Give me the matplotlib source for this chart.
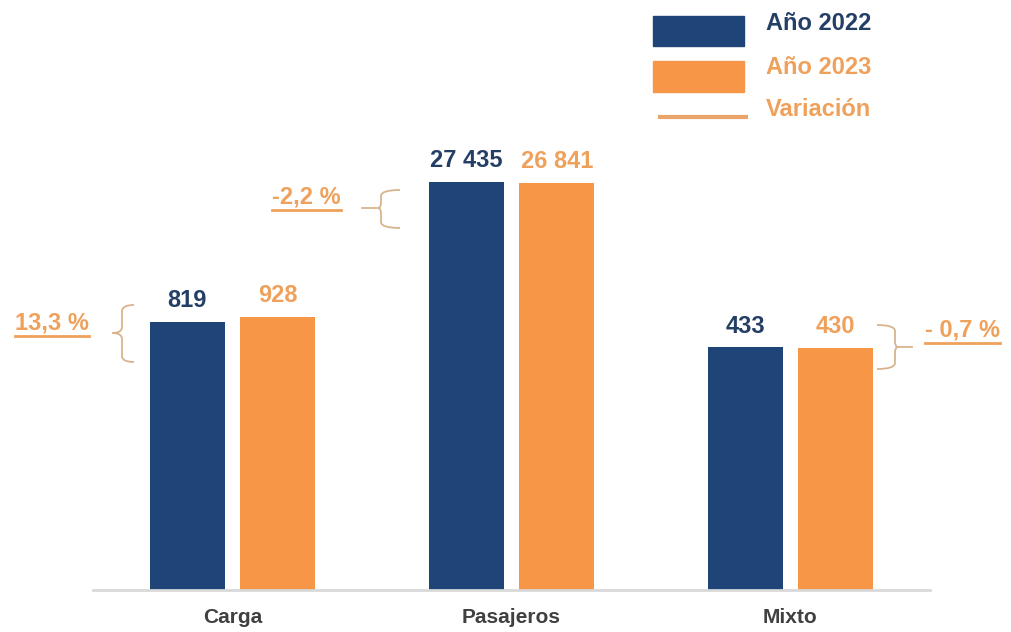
import matplotlib
matplotlib.use("Agg")
import matplotlib.pyplot as plt
from matplotlib.patches import Rectangle, PathPatch
from matplotlib.path import Path
import numpy as np

plt.rcParams["font.family"] = ["Liberation Sans", "DejaVu Sans"]

# Vehicle counts by type of service
categorias = ["Carga", "Pasajeros", "Mixto"]
anio_2022 = [819, 27435, 433]
anio_2023 = [928, 26841, 430]
variacion = ["13,3 %", "-2,2 %", "- 0,7 %"]

azul = "#1F4477"
naranja = "#F79646"
texto_azul = "#243F66"
texto_naranja = "#EFA15C"
llave = "#D8B48E"

W, H = 1011, 632
fig = plt.figure(figsize=(W / 100, H / 100), dpi=100)

ax = fig.add_axes([93 / W, 42 / H, 837 / W, 460 / H])
x = np.arange(len(categorias))
ancho = 0.27
off = 0.162
b1 = ax.bar(x - off, anio_2022, ancho, color=azul)
b2 = ax.bar(x + off, anio_2023, ancho, color=naranja)
ax.set_yscale("log")
ax.set_ylim(1, 1e5)
ax.set_xlim(-0.5, 2.5)

fmt = lambda v: f"{v:,}".replace(",", " ")
ax.bar_label(b1, labels=[fmt(v) for v in anio_2022], padding=7,
             fontsize=17, fontweight="bold", color=texto_azul)
ax.bar_label(b2, labels=[fmt(v) for v in anio_2023], padding=7,
             fontsize=17, fontweight="bold", color=texto_naranja)

ax.set_xticks(x)
ax.set_xticklabels(categorias, fontsize=15, fontweight="bold", color="#404040")
ax.tick_params(axis="x", length=0, pad=13)
ax.set_yticks([])
ax.yaxis.set_minor_locator(matplotlib.ticker.NullLocator())
for s in ["top", "left", "right"]:
    ax.spines[s].set_visible(False)
ax.spines["bottom"].set_color("#D9D9D9")
ax.spines["bottom"].set_linewidth(2)

# overlay in pixel units for legend, braces and percentage notes
ov = fig.add_axes([0, 0, 1, 1])
ov.set_xlim(0, W)
ov.set_ylim(H, 0)
ov.axis("off")
ov.patch.set_alpha(0)

# legend
ov.add_patch(Rectangle((653, 16), 91, 30, color=azul))
ov.add_patch(Rectangle((653, 61), 91, 31, color=naranja))
ov.plot([658, 748], [117, 117], color="#EBA56A", lw=3, solid_capstyle="butt")
ov.text(766, 23, "Año 2022", fontsize=17, fontweight="bold", color=texto_azul, va="center")
ov.text(766, 67, "Año 2023", fontsize=17, fontweight="bold", color=texto_naranja, va="center")
ov.text(766, 110, "Variación", fontsize=17, fontweight="bold", color=texto_naranja, va="center")


def brace(xe, xv, xt, yt, yc, yb, r=6, tick=None):
    # curly brace opening towards xe, with its point at (xt, yc)
    verts = [(xe, yt), (xv, yt), (xv, yt + r),
             (xv, yc - r), (xv, yc), (xt, yc),
             (xv, yc), (xv, yc + r),
             (xv, yb - r), (xv, yb), (xe, yb)]
    codes = [Path.MOVETO, Path.CURVE3, Path.CURVE3,
             Path.LINETO, Path.CURVE3, Path.CURVE3,
             Path.CURVE3, Path.CURVE3,
             Path.LINETO, Path.CURVE3, Path.CURVE3]
    ov.add_patch(PathPatch(Path(verts, codes), fill=False, ec=llave, lw=1.3))
    if tick is not None:
        ov.plot([xt, tick], [yc, yc], color=llave, lw=1.3)


brace(134, 122, 112, 305, 333, 362)
brace(400, 381, 378, 190, 208, 228, tick=362)
brace(877, 895, 898, 325, 347, 369, tick=912)

notas = []
notas.append(ov.text(15, 323, variacion[0], fontsize=17, fontweight="bold",
                     color=texto_naranja, va="center", ha="left"))
notas.append(ov.text(272, 197, variacion[1], fontsize=17, fontweight="bold",
                     color=texto_naranja, va="center", ha="left"))
notas.append(ov.text(925, 330, variacion[2], fontsize=17, fontweight="bold",
                     color=texto_naranja, va="center", ha="left"))

# underline each percentage
fig.canvas.draw()
r = fig.canvas.get_renderer()
inv = ov.transData.inverted()
for t in notas:
    bb = t.get_window_extent(r)
    (x0, y0), (x1, y1) = inv.transform([(bb.x0, bb.y0), (bb.x1, bb.y1)])
    ov.plot([x0, x1], [y0 + 1, y0 + 1], color=texto_naranja, lw=2)

fig.savefig("out.png", dpi=100)
